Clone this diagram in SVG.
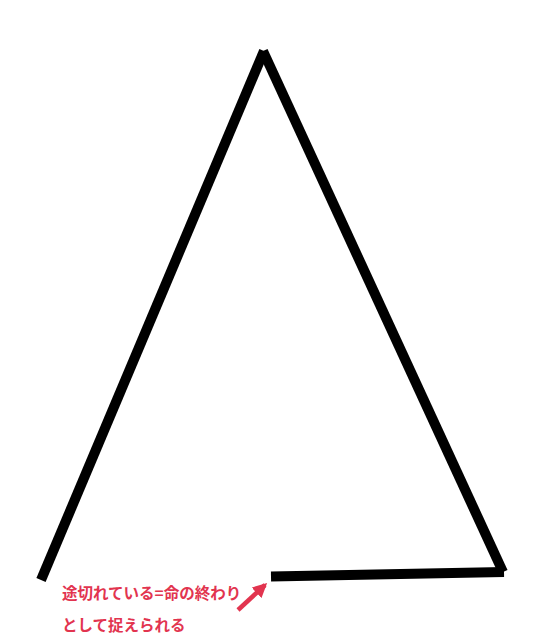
<svg xmlns="http://www.w3.org/2000/svg" width="550" height="640" viewBox="0 0 550 640">
<style>
.ln{stroke:#000;stroke-width:10;fill:none;stroke-linecap:butt}
.lbl{font-family:"Noto Sans CJK JP","Noto Sans",sans-serif;font-size:15.5px;font-weight:bold;fill:#e2344f}
</style>
<defs>
<marker id="ah" viewBox="0 0 10 10" refX="8" refY="5" markerWidth="3.2" markerHeight="3.2" orient="auto">
<path d="M0,0 L10,5 L0,10 z" fill="#e2344f"/>
</marker>
</defs>
<rect width="550" height="640" fill="#fff"/>
<g id="triangle">
<line class="ln" x1="41" y1="580" x2="264" y2="51"/>
<line class="ln" x1="263" y1="51" x2="503" y2="572"/>
<line class="ln" x1="271" y1="576.5" x2="504" y2="572"/>
</g>
<g id="connectors">
<line x1="238" y1="610" x2="265" y2="585" stroke="#e2344f" stroke-width="4.5" marker-end="url(#ah)"/>
</g>
<g id="label">
<text class="lbl" x="62" y="599">途切れている=命の終わり</text>
<text class="lbl" x="62" y="631">として捉えられる</text>
</g>
</svg>
